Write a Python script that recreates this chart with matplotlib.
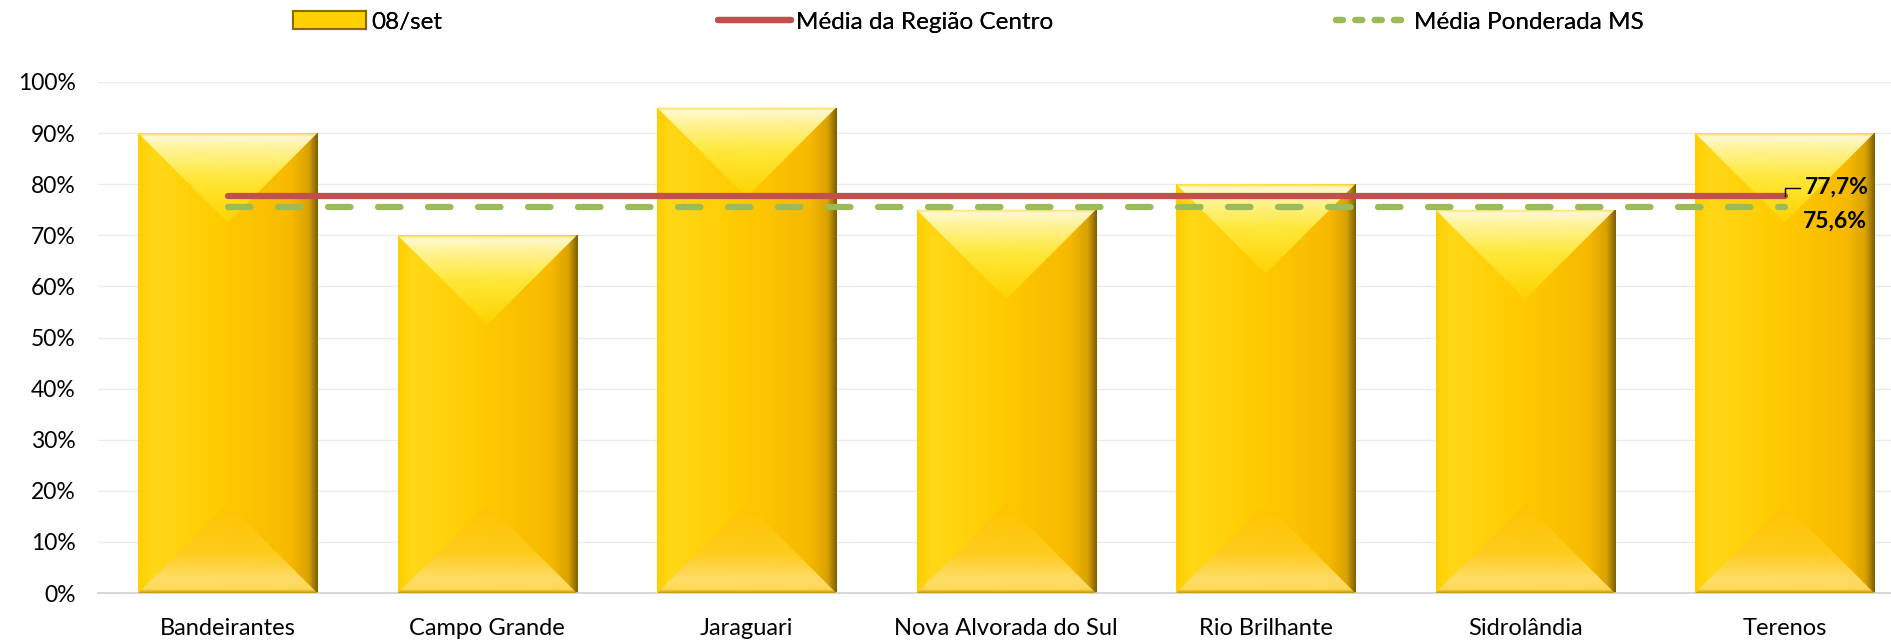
import numpy as np
import matplotlib
matplotlib.use("Agg")
import matplotlib.pyplot as plt
from matplotlib.patches import Polygon, Rectangle
from matplotlib.colors import LinearSegmentedColormap
from matplotlib.lines import Line2D

plt.rcParams['font.family'] = ['Lato', 'DejaVu Sans']

# Data
municipios = ['Bandeirantes', 'Campo Grande', 'Jaraguari', 'Nova Alvorada do Sul',
              'Rio Brilhante', 'Sidrolândia', 'Terenos']
valores = [90, 70, 95, 75, 80, 75, 90]  # 08/set, %
media_centro = 77.7
media_ms = 75.6
serie_label = '08/set'
label_centro = 'Média da Região Centro'
label_ms = 'Média Ponderada MS'

red = '#C0504D'
green = '#9BBB59'

# gradients used for the bevelled gold bars
body_cmap = LinearSegmentedColormap.from_list('body', [
    (0.0, '#FFCE00'), (0.08, '#FFD816'), (0.45, '#FFCB00'),
    (0.85, '#F7B900'), (0.95, '#D9A200'), (1.0, '#7E6000')])
top_cmap = LinearSegmentedColormap.from_list('top', [
    (0.0, '#FFE03A'), (0.04, '#FFFBE0'), (0.15, '#FFF7A8'),
    (0.5, '#FFEA3C'), (1.0, '#FFD400')])
bot_cmap = LinearSegmentedColormap.from_list('bot', [
    (0.0, '#C89200'), (0.04, '#FFDA58'), (0.15, '#FFDE6E'),
    (0.45, '#FFCC1E'), (1.0, '#FFC400')])

fig = plt.figure(figsize=(18.91, 6.41), dpi=100)
ax = fig.add_axes([98 / 1891, 1 - 593 / 641, 1 - 98 / 1891, (593 - 82) / 641])

x = np.arange(len(municipios))
width = 0.69
bars = ax.bar(x, valores, width, color='#FFC800', zorder=2)

ax.set_xlim(-0.5, 6.41)
ax.set_ylim(0, 100)

# depth of the top/bottom bevel in data units (roughly 45 degrees on screen)
depth = 17.5

grad = np.linspace(0, 1, 256)
for b in bars:
    x0 = b.get_x()
    x1 = x0 + b.get_width()
    h = b.get_height()
    xc = (x0 + x1) / 2
    b.set_visible(False)

    body = Rectangle((x0, 0), x1 - x0, h, transform=ax.transData)
    im = ax.imshow(grad[None, :], cmap=body_cmap, aspect='auto',
                   extent=(x0, x1, 0, h), zorder=2, interpolation='bilinear')
    im.set_clip_path(body)

    top = Polygon([(x0, h), (x1, h), (xc, h - depth)], closed=True, transform=ax.transData)
    im = ax.imshow(grad[:, None], cmap=top_cmap, aspect='auto',
                   extent=(x0, x1, h - depth, h), origin='upper', zorder=3,
                   interpolation='bilinear', alpha=0.95)
    im.set_clip_path(top)

    bot = Polygon([(x0, 0), (x1, 0), (xc, depth)], closed=True, transform=ax.transData)
    im = ax.imshow(grad[:, None], cmap=bot_cmap, aspect='auto',
                   extent=(x0, x1, 0, depth), origin='lower', zorder=3,
                   interpolation='bilinear', alpha=0.95)
    im.set_clip_path(bot)

ax.set_xlim(-0.5, 6.41)
ax.set_ylim(0, 100)

# average lines
ax.plot([x[0], x[-1]], [media_centro, media_centro], color=red, lw=4.5,
        solid_capstyle='round', zorder=5)
ax.plot([x[0], x[-1]], [media_ms, media_ms], color=green, lw=4.5,
        dashes=(3.6, 4.4), dash_capstyle='round', zorder=4)

# value labels at the end of the lines
ax.plot([x[-1], x[-1], x[-1] + 0.06], [media_centro, media_centro + 1.6, media_centro + 1.6],
        color='black', lw=1, zorder=6)
ax.text(x[-1] + 0.08, media_centro + 1.8, f'{media_centro:.1f}%'.replace('.', ','),
        fontsize=16.5, fontweight='bold', va='center', ha='left', zorder=6)
ax.text(x[-1] + 0.07, media_ms - 2.9, f'{media_ms:.1f}%'.replace('.', ','),
        fontsize=16.5, fontweight='bold', va='center', ha='left', zorder=6)

# axes styling
ax.set_yticks(np.arange(0, 101, 10))
ax.set_yticklabels([f'{v}%' for v in range(0, 101, 10)])
ax.set_xticks(x)
ax.set_xticklabels(municipios)
ax.tick_params(axis='both', length=0, colors='#000000')
ax.tick_params(axis='y', pad=16, labelsize=16.5)
ax.tick_params(axis='x', pad=18, labelsize=17)
ax.grid(axis='y', color='#EBEBEB', lw=1, zorder=0)
ax.set_axisbelow(True)
for s in ['top', 'right', 'left']:
    ax.spines[s].set_visible(False)
ax.spines['bottom'].set_color('#D0D0D0')
ax.spines['bottom'].set_linewidth(1.2)

# legend, three separately placed entries like the original
h_bar = Rectangle((0, 0), 1, 1, facecolor='#FFD000', edgecolor='#8B6B00', lw=1.5)
h_red = Line2D([], [], color=red, lw=4.5, solid_capstyle='round')
h_green = Line2D([], [], color=green, lw=4.5, dashes=(1.1, 2.0), dash_capstyle='round')
legend_y = 1 - 22 / 641
for handle, text, lx in [(h_bar, serie_label, 293), (h_red, label_centro, 718),
                         (h_green, label_ms, 1336)]:
    leg = fig.legend([handle], [text], loc='center left',
                     bbox_to_anchor=(lx / 1891, legend_y), frameon=False,
                     fontsize=17.5, borderpad=0, borderaxespad=0,
                     handlelength=3.0, handleheight=0.7, handletextpad=0.2)
    fig.add_artist(leg)

fig.savefig('out.png', dpi=100)
